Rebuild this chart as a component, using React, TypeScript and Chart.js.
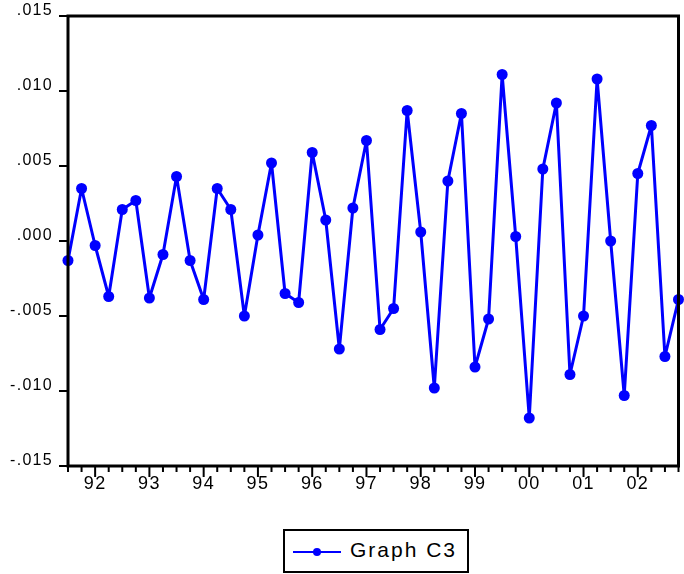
import React, { useEffect, useRef } from 'react';
import { Chart, registerables } from 'chart.js';

Chart.register(...registerables);

const quarters = [
  '1991Q3', '1991Q4',
  '1992Q1', '1992Q2', '1992Q3', '1992Q4',
  '1993Q1', '1993Q2', '1993Q3', '1993Q4',
  '1994Q1', '1994Q2', '1994Q3', '1994Q4',
  '1995Q1', '1995Q2', '1995Q3', '1995Q4',
  '1996Q1', '1996Q2', '1996Q3', '1996Q4',
  '1997Q1', '1997Q2', '1997Q3', '1997Q4',
  '1998Q1', '1998Q2', '1998Q3', '1998Q4',
  '1999Q1', '1999Q2', '1999Q3', '1999Q4',
  '2000Q1', '2000Q2', '2000Q3', '2000Q4',
  '2001Q1', '2001Q2', '2001Q3', '2001Q4',
  '2002Q1', '2002Q2', '2002Q3', '2002Q4',
];

const graphC3 = [
  -0.0013, 0.0035,
  -0.0003, -0.0037, 0.0021, 0.0027,
  -0.0038, -0.0009, 0.0043, -0.0013,
  -0.0039, 0.0035, 0.0021, -0.0050,
  0.0004, 0.0052, -0.0035, -0.0041,
  0.0059, 0.0014, -0.0072, 0.0022,
  0.0067, -0.0059, -0.0045, 0.0087,
  0.0006, -0.0098, 0.0040, 0.0085,
  -0.0084, -0.0052, 0.0111, 0.0003,
  -0.0118, 0.0048, 0.0092, -0.0089,
  -0.0050, 0.0108, 0.0000, -0.0103,
  0.0045, 0.0077, -0.0077, -0.0039,
];

const yTickValues = [-0.015, -0.01, -0.005, 0, 0.005, 0.01, 0.015];
const seriesName = 'Graph C3';

const FONT = "'Liberation Sans', Arial, sans-serif";
const BLUE = '#0000ff';

const fmtY = (v: number) => {
  const a = Math.abs(v).toFixed(3).replace(/^0/, '');
  return (v < -1e-9 ? '-' : '') + a;
};

const xLabel = (i: number) => {
  const q = quarters[i];
  return q && q.endsWith('Q1') ? q.slice(2, 4) : '';
};

export default function App() {
  const ref = useRef<HTMLCanvasElement>(null);

  useEffect(() => {
    if (!ref.current) return;
    const framePlugin = {
      id: 'frame',
      beforeDraw(chart: any) {
        chart.ctx.letterSpacing = '1.3px';
      },
      afterDraw(chart: any) {
        const { ctx, chartArea: a, scales } = chart;
        ctx.save();
        ctx.strokeStyle = '#000';
        ctx.lineWidth = 2;
        quarters.forEach((q, i) => {
          const x = scales.x.getPixelForValue(i);
          const len = q.endsWith('Q1') ? 11 : 6;
          ctx.beginPath();
          ctx.moveTo(x, a.bottom);
          ctx.lineTo(x, a.bottom + len);
          ctx.stroke();
        });
        yTickValues.forEach((v) => {
          const y = scales.y.getPixelForValue(v);
          ctx.beginPath();
          ctx.moveTo(a.left - 9, y);
          ctx.lineTo(a.left, y);
          ctx.stroke();
        });
        ctx.lineWidth = 3;
        ctx.strokeRect(a.left, a.top, a.right - a.left, a.bottom - a.top);
        ctx.restore();
      },
    };

    const chart = new Chart(ref.current, {
      type: 'line',
      data: {
        labels: quarters,
        datasets: [
          {
            label: seriesName,
            data: graphC3,
            borderColor: BLUE,
            backgroundColor: BLUE,
            borderWidth: 3,
            borderJoinStyle: 'round',
            pointRadius: 5.5,
            pointBackgroundColor: BLUE,
            pointBorderWidth: 0,
            tension: 0,
            clip: false as any,
          },
        ],
      },
      options: {
        animation: false,
        responsive: false,
        devicePixelRatio: 1,
        layout: { padding: { top: 16, right: 2, left: 0, bottom: 0 } },
        plugins: {
          legend: { display: false },
          tooltip: { enabled: false },
        },
        scales: {
          x: {
            type: 'category',
            offset: false,
            grid: { display: false, drawTicks: false },
            border: { display: false },
            ticks: {
              autoSkip: false,
              maxRotation: 0,
              minRotation: 0,
              padding: 7,
              color: '#000',
              font: { family: FONT, size: 18 },
              callback: (_v: any, i: number) => xLabel(i),
            },
            afterFit: (s: any) => {
              s.height = 108;
              s.paddingLeft = 0;
              s.paddingRight = 0;
            },
          },
          y: {
            min: -0.015,
            max: 0.015,
            grid: { display: false, drawTicks: false },
            border: { display: false },
            ticks: {
              stepSize: 0.005,
              padding: 15,
              labelOffset: -5,
              color: '#000',
              font: { family: FONT, size: 16 },
              callback: (v: any) => fmtY(Number(v)),
            },
            afterFit: (s: any) => {
              s.width = 68;
              s.paddingTop = 0;
              s.paddingBottom = 0;
            },
          },
        },
      },
      plugins: [framePlugin],
    });
    return () => chart.destroy();
  }, []);

  return (
    <div style={{ position: 'absolute', left: 0, top: 0, width: 684, height: 574, background: '#fff' }}>
      <canvas ref={ref} width={684} height={574} style={{ display: 'block' }} />
      <div
        style={{
          position: 'absolute',
          left: 283,
          top: 529,
          width: 186,
          height: 44,
          boxSizing: 'border-box',
          border: '2px solid #000',
          background: '#fff',
        }}
      >
        <div style={{ position: 'absolute', left: 8, top: 20, width: 48, height: 2, background: BLUE }} />
        <div
          style={{
            position: 'absolute',
            left: 28,
            top: 17,
            width: 8,
            height: 8,
            borderRadius: '50%',
            background: BLUE,
          }}
        />
        <span
          style={{
            position: 'absolute',
            left: 65,
            top: 6,
            fontFamily: FONT,
            fontSize: 21,
            lineHeight: '26px',
            letterSpacing: 2,
            color: '#000',
            whiteSpace: 'nowrap',
          }}
        >
          {seriesName}
        </span>
      </div>
    </div>
  );
}
